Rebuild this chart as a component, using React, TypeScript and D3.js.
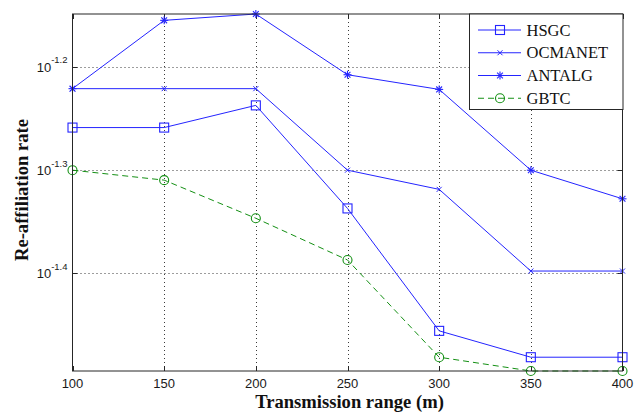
import React from "react";
import * as d3 from "d3";

// Transmission range (m)
const ranges = [100, 150, 200, 250, 300, 350, 400];

// Re-affiliation rate per algorithm
const hsgc = [0.0551, 0.0551, 0.0579, 0.046, 0.035, 0.033, 0.033];
const ocmanet = [0.0601, 0.0601, 0.0601, 0.0501, 0.048, 0.04, 0.04];
const antalg = [0.0601, 0.07, 0.071, 0.062, 0.06, 0.0501, 0.047];
const gbtc = [0.0501, 0.049, 0.045, 0.041, 0.033, 0.032, 0.032];

const xTicks = [100, 150, 200, 250, 300, 350, 400];
const yTickExponents = [-1.2, -1.3, -1.4];

const seriesNames = ["HSGC", "OCMANET", "ANTALG", "GBTC"];

const W = 638;
const H = 412;
const left = 72.5;
const right = 622.5;
const top = 14;
const bottom = 371;

const BLUE = "#2424ff";
const GREEN = "#149014";

type MarkerKind = "square" | "x" | "star" | "circle";

function Marker({ kind, x, y, color }: { kind: MarkerKind; x: number; y: number; color: string }) {
  if (kind === "square") {
    return <rect x={x - 4.5} y={y - 4.5} width={9} height={9} fill="none" stroke={color} strokeWidth={1.1} />;
  }
  if (kind === "circle") {
    return <circle cx={x} cy={y} r={4.5} fill="none" stroke={color} strokeWidth={1.1} />;
  }
  if (kind === "x") {
    const s = 2.5;
    return (
      <g stroke={color} strokeWidth={1}>
        <line x1={x - s} y1={y - s} x2={x + s} y2={y + s} />
        <line x1={x - s} y1={y + s} x2={x + s} y2={y - s} />
      </g>
    );
  }
  const s = 4;
  const d = 2.9;
  return (
    <g stroke={color} strokeWidth={1.1}>
      <line x1={x - s} y1={y} x2={x + s} y2={y} />
      <line x1={x} y1={y - s} x2={x} y2={y + s} />
      <line x1={x - d} y1={y - d} x2={x + d} y2={y + d} />
      <line x1={x - d} y1={y + d} x2={x + d} y2={y - d} />
    </g>
  );
}

export default function App() {
  const series = [
    { name: seriesNames[0], values: hsgc, color: BLUE, marker: "square" as MarkerKind, dash: undefined as string | undefined },
    { name: seriesNames[1], values: ocmanet, color: BLUE, marker: "x" as MarkerKind, dash: undefined },
    { name: seriesNames[2], values: antalg, color: BLUE, marker: "star" as MarkerKind, dash: undefined },
    { name: seriesNames[3], values: gbtc, color: GREEN, marker: "circle" as MarkerKind, dash: "6,4" },
  ];

  const all = [...hsgc, ...ocmanet, ...antalg, ...gbtc];
  const [ymin, ymax] = d3.extent(all) as [number, number];

  const x = d3.scaleLinear().domain([100, 400]).range([left, right]);
  const y = d3.scaleLog().domain([ymin, ymax]).range([bottom, top]);

  const line = d3
    .line<number>()
    .x((_, i) => x(ranges[i]))
    .y((v) => y(v));

  const tickLen = 5;
  const gridColor = "#3a3a3a";
  const axisColor = "#262626";

  const legX = 469.5;
  const legY = 14;
  const legW = 153.5;
  const legH = 95.5;
  const rowY = (i: number) => 30 + i * 22.75;

  return (
    <div style={{ position: "fixed", left: 0, top: 0 }}>
      <svg width={W} height={H} viewBox={`0 0 ${W} ${H}`} style={{ display: "block", background: "#fff" }}>
        <rect x={0} y={0} width={W} height={H} fill="#fff" />

        {/* grid */}
        <g stroke={gridColor} strokeWidth={1} strokeDasharray="1,3">
          {xTicks.slice(1, -1).map((t) => (
            <line key={"gx" + t} x1={Math.round(x(t)) + 0.5} x2={Math.round(x(t)) + 0.5} y1={top} y2={bottom} />
          ))}
          {yTickExponents.map((e) => {
            const yy = Math.round(y(Math.pow(10, e))) + 0.5;
            return <line key={"gy" + e} x1={left} x2={right} y1={yy} y2={yy} />;
          })}
        </g>

        {/* tick marks on all four sides */}
        <g stroke={axisColor} strokeWidth={1}>
          {xTicks.map((t) => {
            const xx = Math.round(x(t)) + 0.5;
            return (
              <g key={"tx" + t}>
                <line x1={xx} x2={xx} y1={bottom} y2={bottom - tickLen} />
                <line x1={xx} x2={xx} y1={top} y2={top + tickLen} />
              </g>
            );
          })}
          {yTickExponents.map((e) => {
            const yy = Math.round(y(Math.pow(10, e))) + 0.5;
            return (
              <g key={"ty" + e}>
                <line x1={left} x2={left + tickLen} y1={yy} y2={yy} />
                <line x1={right} x2={right - tickLen} y1={yy} y2={yy} />
              </g>
            );
          })}
        </g>

        {/* series */}
        {series.map((s) => (
          <g key={s.name}>
            <path d={line(s.values) || ""} fill="none" stroke={s.color} strokeWidth={1} strokeDasharray={s.dash} />
            {s.values.map((v, i) => (
              <Marker key={i} kind={s.marker} x={x(ranges[i])} y={y(v)} color={s.color} />
            ))}
          </g>
        ))}

        {/* axes box */}
        <rect x={left} y={top} width={right - left} height={bottom - top} fill="none" stroke={axisColor} strokeWidth={1} />

        {/* x tick labels */}
        <g fontFamily="Liberation Sans, Arial, sans-serif" fontSize={13} fill="#1a1a1a" textAnchor="middle">
          {xTicks.map((t) => (
            <text key={"lx" + t} x={x(t)} y={388}>
              {t}
            </text>
          ))}
        </g>

        {/* y tick labels */}
        <g fontFamily="Liberation Sans, Arial, sans-serif" fill="#1a1a1a">
          {yTickExponents.map((e) => {
            const yy = y(Math.pow(10, e));
            return (
              <text key={"ly" + e} x={67.5} y={yy + 5} textAnchor="end">
                <tspan fontSize={13}>10</tspan>
                <tspan fontSize={9.5} dy={-8.5}>
                  {e.toFixed(1)}
                </tspan>
              </text>
            );
          })}
        </g>

        {/* axis titles */}
        <text
          x={(left + right) / 2 + 2}
          y={408}
          textAnchor="middle"
          fontFamily="Liberation Serif, Times New Roman, serif"
          fontWeight="bold"
          fontSize={18.6}
          fill="#111"
        >
          Transmission range (m)
        </text>
        <text
          transform={`translate(28,190) rotate(-90)`}
          textAnchor="middle"
          fontFamily="Liberation Serif, Times New Roman, serif"
          fontWeight="bold"
          fontSize={18.6}
          fill="#111"
        >
          Re-affiliation rate
        </text>

        {/* legend */}
        <g>
          <rect x={legX} y={legY} width={legW} height={legH} fill="#fff" stroke={axisColor} strokeWidth={1} />
          {series.map((s, i) => (
            <g key={"leg" + s.name}>
              <line x1={478} x2={521} y1={rowY(i)} y2={rowY(i)} stroke={s.color} strokeWidth={1} strokeDasharray={s.dash} />
              <Marker kind={s.marker} x={500} y={rowY(i)} color={s.color} />
              <text
                x={526.5}
                y={rowY(i) + 5.5}
                fontFamily="Liberation Serif, Times New Roman, serif"
                fontSize={16.5}
                fill="#111"
              >
                {s.name}
              </text>
            </g>
          ))}
        </g>
      </svg>
    </div>
  );
}
